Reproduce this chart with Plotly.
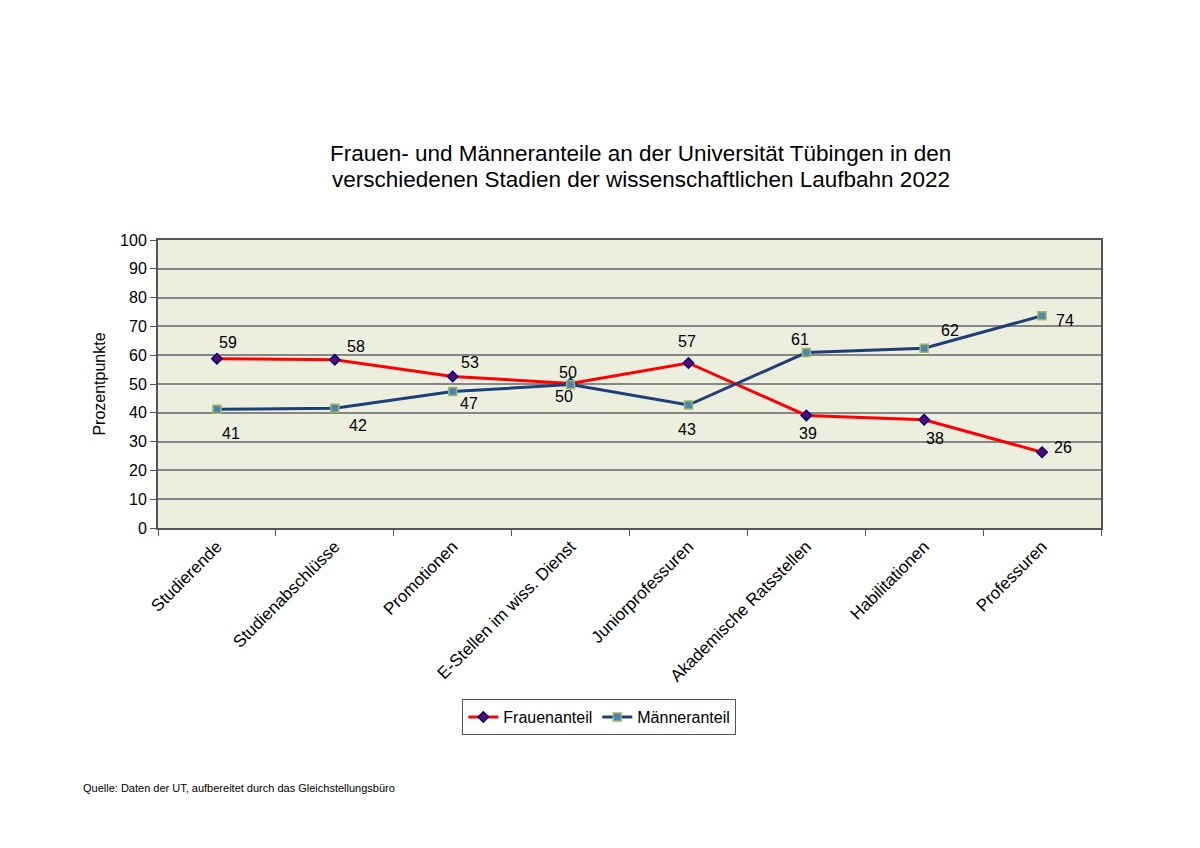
import plotly.graph_objects as go

categories = ["Studierende", "Studienabschlüsse", "Promotionen", "E-Stellen im wiss. Dienst",
              "Juniorprofessuren", "Akademische Ratsstellen", "Habilitationen", "Professuren"]
frauen = [58.8, 58.4, 52.6, 50.2, 57.3, 39.1, 37.6, 26.3]
maenner = [41.2, 41.6, 47.4, 49.8, 42.7, 60.9, 62.4, 73.7]
title_lines = ["Frauen- und Männeranteile an der Universität Tübingen in den",
               "verschiedenen Stadien der wissenschaftlichen Laufbahn 2022"]

# label offsets in pixels (dx right, dy up)
frauen_off = [(11, 16), (21, 13), (17, 14), (-3, 11), (-1, 21), (2, -18), (11, -19), (21, 5)]
maenner_off = [(14, -24), (23, -17), (16, -12), (-7, -12), (-1, -24), (-6, 13), (26, 18), (23, -5)]

FONT = "Liberation Sans, Arial, sans-serif"

fig = go.Figure()
fig.add_trace(go.Scatter(
    x=categories, y=frauen, name="Frauenanteil", mode="lines+markers",
    line=dict(color="#FF0000", width=3),
    marker=dict(symbol="diamond", size=8, color="#5A0A6E", line=dict(color="#000080", width=1.5)),
))
fig.add_trace(go.Scatter(
    x=categories, y=maenner, name="Männeranteil", mode="lines+markers",
    line=dict(color="#1F3F7A", width=3),
    marker=dict(symbol="square", size=8, color="#4F81BD", line=dict(color="#9BBB59", width=1.5)),
))

annotations = []
for vals, offs in ((frauen, frauen_off), (maenner, maenner_off)):
    for c, v, (dx, dy) in zip(categories, vals, offs):
        annotations.append(dict(text=f"{v:.0f}", x=c, y=v, xref="x", yref="y",
                                xshift=dx, yshift=dy, showarrow=False,
                                xanchor="center", yanchor="middle",
                                font=dict(family=FONT, size=16, color="black")))

annotations += [
    dict(text=title_lines[0], xref="paper", yref="paper", x=0.512, y=(527 - 152) / 288,
         xanchor="center", yanchor="middle", showarrow=False,
         font=dict(family=FONT, size=22.5, color="black")),
    dict(text=title_lines[1], xref="paper", yref="paper", x=0.512, y=(527 - 178) / 288,
         xanchor="center", yanchor="middle", showarrow=False,
         font=dict(family=FONT, size=22.5, color="black")),
    dict(text="Quelle: Daten der UT, aufbereitet durch das Gleichstellungsbüro",
         xref="paper", yref="paper", x=-0.0817, y=-0.903, xanchor="left", yanchor="middle",
         showarrow=False, font=dict(family=FONT, size=11, color="black")),
]

fig.update_layout(
    width=1200, height=848,
    margin=dict(l=150, r=107, t=232, b=328),
    paper_bgcolor="white", plot_bgcolor="#ECEEDE",
    font=dict(family=FONT, size=15, color="black"),
    legend=dict(orientation="h", x=0.468, xanchor="center", y=-0.594, yanchor="top",
                bordercolor="#555555", borderwidth=1, bgcolor="white",
                font=dict(family=FONT, size=16, color="black"), itemwidth=30),
    showlegend=True,
    annotations=annotations,
)
fig.update_xaxes(type="category", range=[-0.5, len(categories) - 0.5], tickangle=-45,
                 tickson="boundaries", ticks="outside", ticklen=6,
                 tickcolor="#555555", showline=True, linecolor="#555555", linewidth=2, mirror=True,
                 showgrid=False, tickfont=dict(family=FONT, size=17, color="black"))
fig.update_yaxes(range=[0, 100], dtick=10, ticks="outside", ticklen=6, tickcolor="#555555",
                 showline=True, linecolor="#555555", linewidth=2, mirror=True,
                 showgrid=True, gridcolor="#868686", gridwidth=1.5, zeroline=False,
                 title=dict(text="Prozentpunkte", font=dict(family=FONT, size=16, color="black"), standoff=10),
                 tickfont=dict(family=FONT, size=16, color="black"))

fig.write_html("out.html")
